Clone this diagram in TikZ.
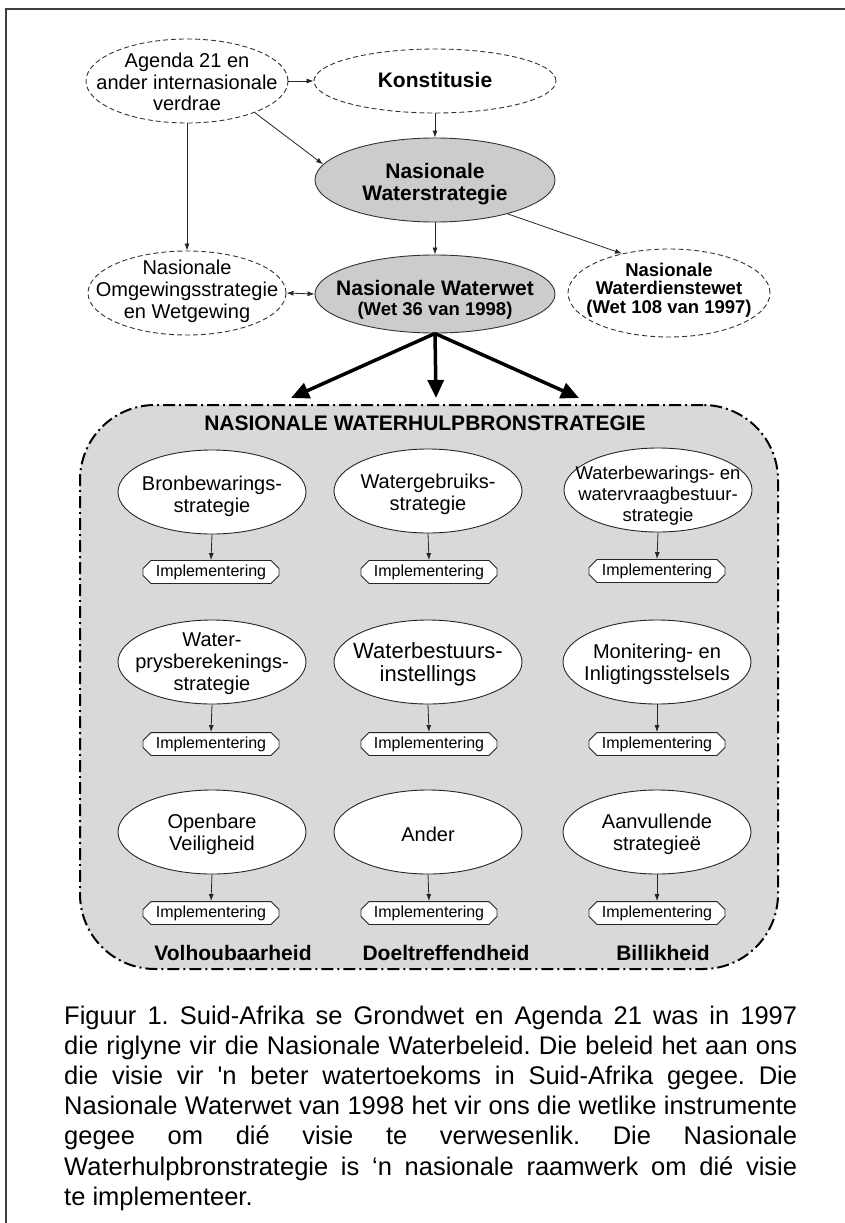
\documentclass[tikz,border=0pt]{standalone}
\usepackage{fontspec}
\setmainfont{Liberation Sans}
\newfontfamily\capfont{Liberation Sans}
\usetikzlibrary{shapes.geometric,shapes.misc,arrows.meta}
\newcommand\fsz[2]{\fontsize{#1}{#2}\selectfont}
\begin{document}
\begin{tikzpicture}[x=1pt,y=-1pt,
  dashell/.style={ellipse, draw=black!80, dash pattern=on 5pt off 3pt, line width=0.9pt, fill=white, inner sep=0pt},
  grayell/.style={ellipse, draw=black!80, line width=0.9pt, fill=black!20, inner sep=0pt},
  stratell/.style={ellipse, draw=black!85, line width=0.9pt, fill=white, minimum width=188pt, minimum height=84pt, inner sep=0pt},
  txt/.style={align=center, inner sep=0pt, font=\fsz{20}{22}},
  impl/.style={chamfered rectangle, chamfered rectangle xsep=4pt, chamfered rectangle ysep=4pt, draw=black!85, line width=0.9pt, fill=white, minimum width=136pt, minimum height=21pt, inner sep=0pt, font=\fsz{16}{18}},
  arr/.style={-{Latex[length=7pt,width=5pt]}, line width=0.8pt, black!85},
  bigarr/.style={-{Triangle[length=18pt,width=16pt]}, line width=3.5pt, black},
  lbl/.style={font=\bfseries\fsz{21}{24}, inner sep=0pt}
]
\useasboundingbox (0,0) rectangle (845,1223);
\fill[white] (0,0) rectangle (845,1223);
\draw[line width=2pt, black!75] (845,9) -- (6,9) -- (6,1223);

% top part
\node[dashell, minimum width=202pt, minimum height=84pt] (ag) at (187,81) {};
\node[txt, font=\fsz{20}{21.5}] (agt) at (187,82) {Agenda 21 en\\ander internasionale\\verdrae};
\node[dashell, minimum width=242pt, minimum height=64pt] (ko) at (435,81) {};
\node[txt, font=\bfseries\fsz{21}{23}] (kot) at (435,80) {Konstitusie};
\node[grayell, minimum width=240pt, minimum height=84pt] (ws) at (435,180) {};
\node[txt, font=\bfseries\fsz{21}{21.5}] (wst) at (435,184) {Nasionale\\Waterstrategie};
\node[dashell, minimum width=198pt, minimum height=84pt] (om) at (187,293) {};
\node[txt, font=\fsz{20}{22}] (omt) at (187,291) {Nasionale\\Omgewingsstrategie\\en Wetgewing};
\node[grayell, minimum width=240pt, minimum height=78pt] (ww) at (435,294) {};
\node[txt, font=\bfseries\fsz{21}{21}] (wwt1) at (435,288) {Nasionale Waterwet};
\node[txt, font=\bfseries\fsz{18.5}{19}] (wwt2) at (435,311) {(Wet 36 van 1998)};
\node[dashell, minimum width=202pt, minimum height=88pt] (wd) at (669,293) {};
\node[txt, font=\bfseries\fsz{18.5}{18.5}] (wdt) at (669,290) {Nasionale\\Waterdienstewet\\(Wet 108 van 1997)};

\draw[arr] (ag.east) -- (ko.west);
\draw[arr] (ag.-25) -- (ws.172);
\draw[arr] (ag.south) -- (om.north);
\draw[arr] (ko.south) -- (ws.north);
\draw[arr] (ws.south) -- (ww.north);
\draw[arr] (ws.-25) -- (wd.140);
\draw[{Latex[length=7pt,width=5pt]}-{Latex[length=7pt,width=5pt]}, line width=0.8pt, black!85] (om.east) -- (ww.west);

% big box
\node[rectangle, rounded corners=75pt, draw=black, line width=2pt, dash pattern=on 12pt off 4pt on 2pt off 4pt, fill=black!15, minimum width=698pt, minimum height=564pt, inner sep=0pt] (box) at (429,687) {};
\coordinate (t1) at (291,398);
\coordinate (t2) at (436,398);
\coordinate (t3) at (579,398);
\draw[bigarr] (ww.south) -- (t1);
\draw[bigarr] (ww.south) -- (t2);
\draw[bigarr] (ww.south) -- (t3);

\node[lbl] (title) at (425,423) {NASIONALE WATERHULPBRONSTRATEGIE};

% row 1
\node[stratell] (s11) at (212,492) {};
\node[txt] (s11t) at (212,496) {Bronbewarings-\\strategie};
\node[stratell] (s12) at (428,491) {};
\node[txt] (s12t) at (428,494) {Watergebruiks-\\strategie};
\node[stratell] (s13) at (658,490) {};
\node[txt, font=\fsz{18.5}{21}] (s13t) at (658,496) {Waterbewarings- en\\watervraagbestuur-\\strategie};
% row 2
\node[stratell] (s21) at (212,662) {};
\node[txt] (s21t) at (212,664) {Water-\\prysberekenings-\\strategie};
\node[stratell] (s22) at (428,662) {};
\node[txt, font=\fsz{22}{23}] (s22t) at (428,664) {Waterbestuurs-\\instellings};
\node[stratell] (s23) at (657,662) {};
\node[txt] (s23t) at (657,664) {Monitering- en\\Inligtingsstelsels};
% row 3
\node[stratell] (s31) at (212,832) {};
\node[txt] (s31t) at (212,834) {Openbare\\Veiligheid};
\node[stratell] (s32) at (428,832) {};
\node[txt] (s32t) at (428,834) {Ander};
\node[stratell] (s33) at (657,832) {};
\node[txt] (s33t) at (657,834) {Aanvullende\\strategieë};

\node[impl] (i11) at (211,572) {Implementering};
\node[impl] (i12) at (429,572) {Implementering};
\node[impl] (i13) at (657,571) {Implementering};
\node[impl] (i21) at (211,744) {Implementering};
\node[impl] (i22) at (429,744) {Implementering};
\node[impl] (i23) at (657,744) {Implementering};
\node[impl] (i31) at (211,913) {Implementering};
\node[impl] (i32) at (429,913) {Implementering};
\node[impl] (i33) at (657,913) {Implementering};

\foreach \r in {1,2,3}{\foreach \c in {1,2,3}{
  \draw[arr] (s\r\c.south) -- (i\r\c.north);
}}

\node[lbl] (v1) at (233,953) {Volhoubaarheid};
\node[lbl] (v2) at (446,953) {Doeltreffendheid};
\node[lbl] (v3) at (663,953) {Billikheid};

% caption
\node[anchor=base west, inner sep=0pt] (cap) at (64,1024) {\parbox[t]{733pt}{\capfont\fsz{25.5}{30.2}\frenchspacing
Figuur 1. Suid-Afrika se Grondwet en Agenda 21 was in 1997\linebreak
die riglyne vir die Nasionale Waterbeleid. Die beleid het aan ons\linebreak
die visie vir 'n beter watertoekoms in Suid-Afrika gegee. Die\linebreak
Nasionale Waterwet van 1998 het vir ons die wetlike instrumente\linebreak
gegee om dié visie te verwesenlik. Die Nasionale\linebreak
Waterhulpbronstrategie is ‘n nasionale raamwerk om dié visie\linebreak
te implementeer.}};
\end{tikzpicture}
\end{document}
